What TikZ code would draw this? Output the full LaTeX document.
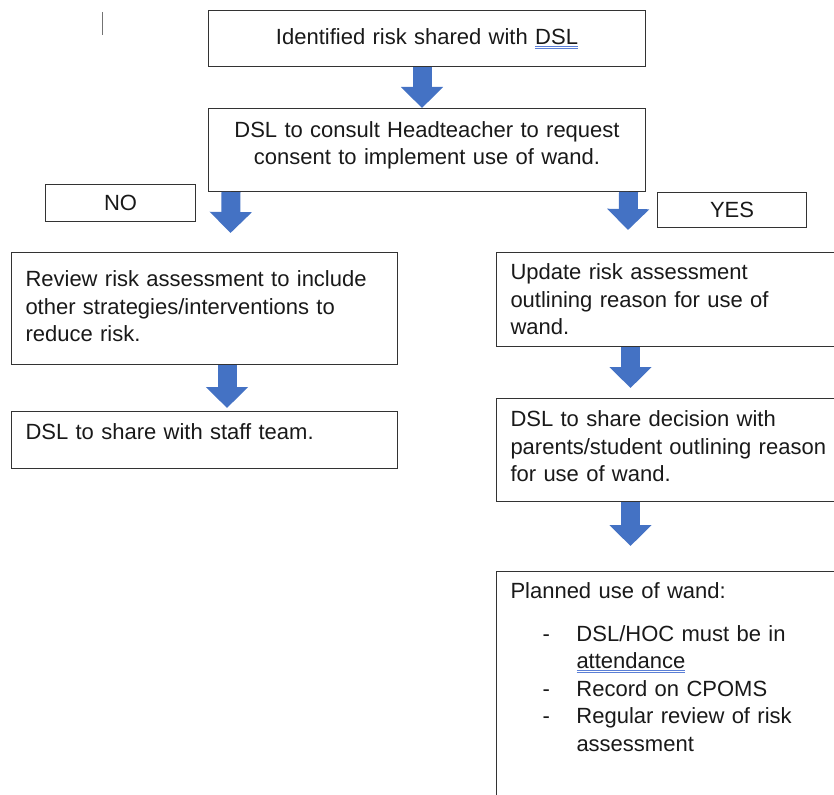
\documentclass[tikz,border=0pt]{standalone}
\usepackage{fontspec}
\setmainfont{Liberation Sans}
\usetikzlibrary{positioning,arrows.meta}
\definecolor{wandblue}{HTML}{4472C4}
\definecolor{chkblue}{HTML}{5B7FD6}
\newcommand\spellchk[1]{\textcolor{chkblue}{\underline{\underline{\textcolor{black!90}{#1}}}}}
\newcommand\tailgap[1]{\par\vspace*{#1}}
\newcommand\listdash{\hspace*{32pt}\makebox[34pt][l]{-}}
\newcommand\listcont{\hspace*{66pt}}
\begin{document}
\begin{tikzpicture}[x=1pt,y=-1pt,
	box/.style={draw=black!80,line width=1pt,anchor=north west,
		minimum height=#1,inner xsep=14pt,inner ysep=0pt,
		text=black!90,font=\fontsize{22}{27.4}\selectfont},
	box/.default=0pt,
	flow/.style={draw=wandblue,line width=19pt,
		-{Triangle[width=41pt,length=21pt]}}]
\useasboundingbox (0,0) rectangle (834,794);
\clip (0,0) rectangle (834,794);
\draw[black!55,line width=0.8pt] (102,12) -- (102,35);
% decision part
\node[box=56pt,text width=409pt,align=center] (risk) at (208,10)
	{Identified risk shared with \spellchk{DSL}};
\node[box=83pt,text width=409pt,align=center,below=41pt of risk] (consult)
	{DSL to consult Headteacher to request\\
	consent to implement use of wand.\tailgap{9pt}};
\node[box=37pt,text width=122pt,align=center] (no) at (45,184) {NO};
\node[box=35pt,text width=121pt,align=center] (yes) at (657,192) {YES};
% NO branch
\node[box=112pt,text width=358pt,align=left] (review) at (11,252)
	{Review risk assessment to include\\
	other strategies/interventions to\\
	reduce risk.\tailgap{4pt}};
\node[box=57pt,text width=358pt,align=left,below=46pt of review] (staff)
	{DSL to share with staff team.\tailgap{16pt}};
% YES branch
\node[box=94pt,text width=336pt,align=left] (update) at (496,252)
	{Update risk assessment\\
	outlining reason for use of\\
	wand.};
\node[box=103pt,text width=336pt,align=left,below=51pt of update] (share)
	{DSL to share decision with\\
	parents/student outlining reason\\
	for use of wand.\tailgap{7pt}};
\node[box,inner ysep=11pt,text width=336pt,align=left,below=69pt of share] (planned)
	{Planned use of wand:\\[15.6pt]
	\listdash DSL/HOC must be in\\
	\listcont\spellchk{attendance}\\
	\listdash Record on CPOMS\\
	\listdash Regular review of risk\\
	\listcont assessment\tailgap{80pt}};
% block arrows
\coordinate (noend) at (230.5,233);
\coordinate (yesend) at (628,230);
\draw[flow] ([xshift=-5pt]risk.south) -- ([xshift=-5pt]consult.north);
\draw[flow] ([xshift=-196pt]consult.south) -- (noend);
\draw[flow] ([xshift=201.5pt]consult.south) -- (yesend);
\draw[flow] ([xshift=22.5pt]review.south) -- ([xshift=22.5pt,yshift=3pt]staff.north);
\draw[flow] ([xshift=-48pt]update.south) -- ([xshift=-48pt,yshift=10pt]share.north);
\draw[flow] ([xshift=-48pt]share.south) -- ([xshift=-48pt,yshift=25pt]planned.north);
\end{tikzpicture}
\end{document}
